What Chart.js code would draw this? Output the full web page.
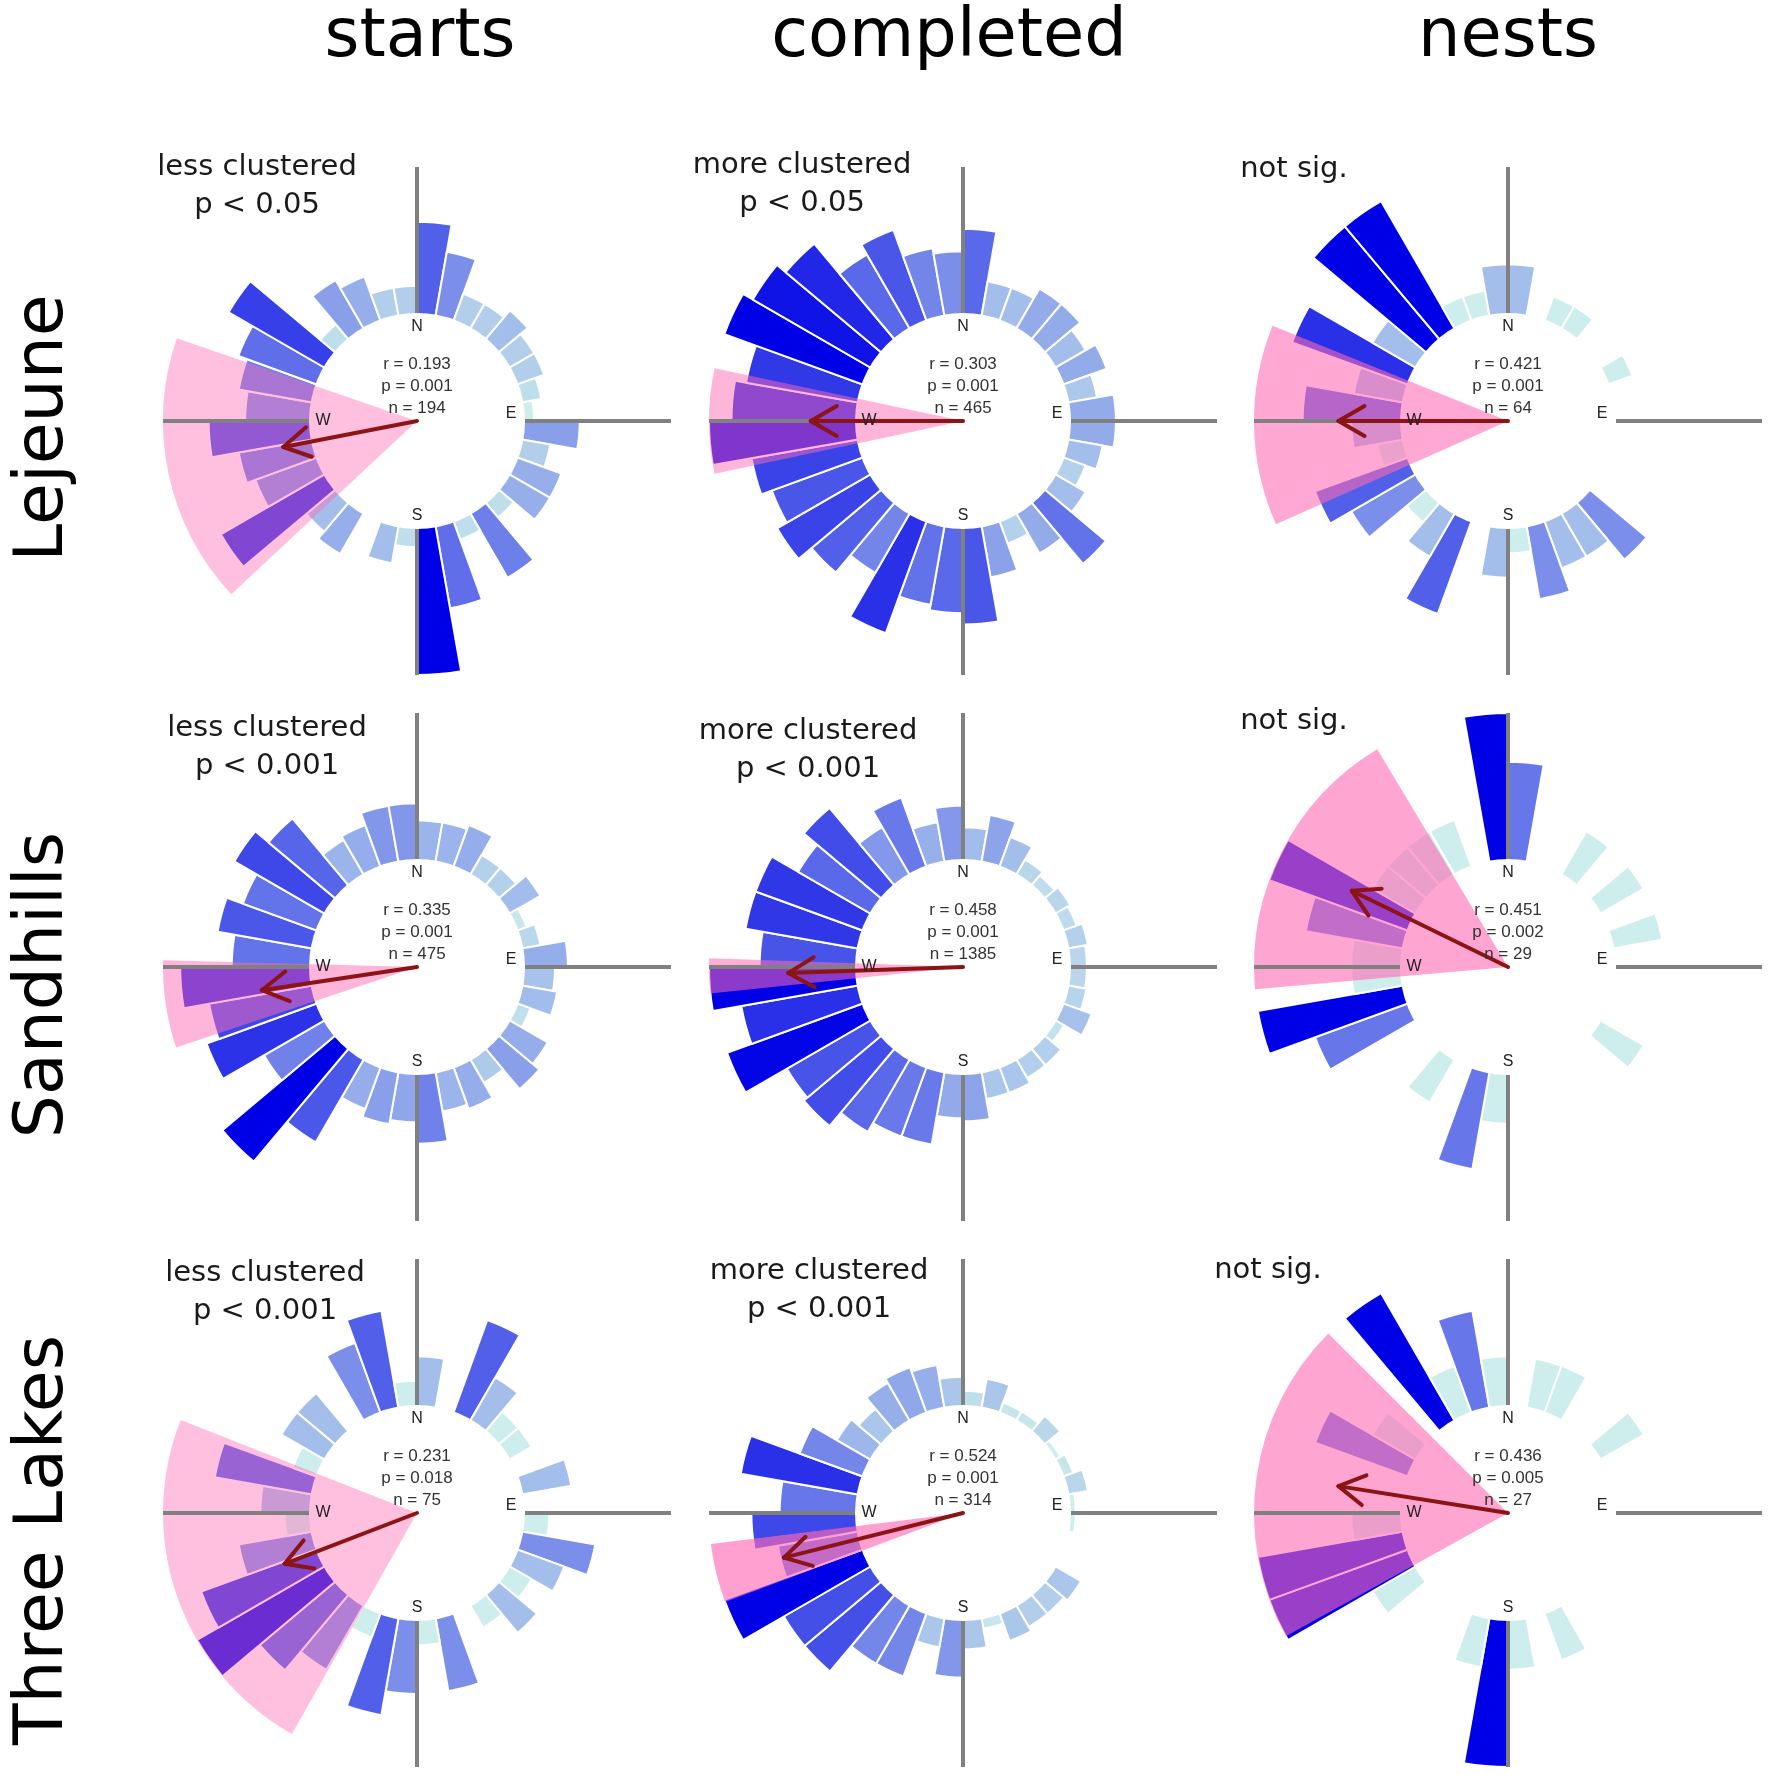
<!DOCTYPE html>
<html>
<head>
<meta charset="utf-8">
<script src="https://cdn.jsdelivr.net/npm/chart.js@4.4.1/dist/chart.umd.min.js"></script>
<style>
html, body { margin: 0; padding: 0; background: #fff; overflow: hidden; }
#page { position: relative; width: 1770px; height: 1775px; font-family: "DejaVu Sans", sans-serif; color: #000; }
canvas { position: absolute; }
.head { position: absolute; font-size: 67px; line-height: 67px; white-space: nowrap; transform: translateX(-50%); }
.row { position: absolute; font-size: 68px; line-height: 68px; white-space: nowrap; transform: translate(-50%, -50%) rotate(-90deg); }
.note { position: absolute; font-size: 29px; line-height: 38px; white-space: pre; text-align: center; color: #1a1a1a; transform: translateX(-50%); }
</style>
</head>
<body>
<div id="page"></div>
<script>
// 10 degree bins, clockwise from north
const binLabels = Array.from({ length: 36 }, (_, i) => i * 10 + "°");
const sites = ["Lejeune", "Sandhills", "Three Lakes"];
const stages = ["starts", "completed", "nests"];

// counts per bin
const lejeuneStarts = [10, 7, 3, 3, 4, 3, 3, 2, 1, 6, 3, 5, 5, 2, 8, 2, 9, 16, 2, 4, 0, 5, 4, 13, 7, 8, 11, 7, 8, 9, 12, 2, 6, 5, 3, 3];
const lejeuneCompleted = [15, 6, 6, 8, 8, 6, 8, 5, 8, 8, 6, 4, 6, 14, 8, 4, 9, 17, 15, 14, 21, 12, 16, 19, 17, 19, 26, 22, 20, 26, 24, 22, 15, 17, 12, 11];
const lejeuneNests = [2, 0, 1, 1, 0, 0, 1, 0, 0, 0, 0, 0, 0, 3, 2, 2, 3, 1, 2, 0, 4, 2, 1, 3, 4, 1, 2, 4, 2, 5, 2, 6, 6, 1, 1, 2];
const sandhillsStarts = [9, 9, 10, 5, 5, 8, 2, 4, 10, 7, 8, 3, 10, 12, 6, 10, 9, 16, 11, 12, 10, 22, 34, 16, 27, 24, 30, 18, 22, 18, 24, 20, 9, 10, 13, 13];
const sandhillsCompleted = [22, 32, 21, 11, 8, 11, 9, 13, 11, 11, 12, 20, 6, 14, 14, 18, 18, 32, 30, 50, 50, 57, 69, 66, 99, 81, 101, 66, 78, 78, 57, 69, 37, 50, 27, 37];
const sandhillsNests = [2, 0, 0, 1, 0, 1, 0, 1, 0, 0, 0, 0, 1, 0, 0, 0, 0, 0, 1, 2, 0, 1, 0, 0, 2, 3, 1, 1, 2, 3, 1, 1, 1, 1, 0, 3];
const threeLakesStarts = [2, 0, 4, 2, 1, 1, 0, 2, 0, 1, 3, 2, 1, 2, 1, 0, 3, 1, 3, 4, 1, 3, 4, 6, 5, 3, 1, 2, 4, 1, 2, 2, 0, 3, 4, 1];
const threeLakesCompleted = [3, 6, 2, 2, 4, 1, 2, 4, 1, 1, 0, 0, 6, 5, 5, 6, 2, 6, 12, 6, 14, 14, 21, 21, 31, 17, 22, 16, 25, 14, 8, 6, 9, 10, 9, 6];
const threeLakesNests = [0, 1, 1, 0, 0, 1, 0, 0, 0, 0, 0, 0, 0, 0, 0, 1, 0, 1, 3, 1, 0, 0, 0, 1, 3, 3, 1, 0, 0, 2, 1, 0, 3, 1, 2, 1];

const panelCounts = [
	lejeuneStarts, lejeuneCompleted, lejeuneNests,
	sandhillsStarts, sandhillsCompleted, sandhillsNests,
	threeLakesStarts, threeLakesCompleted, threeLakesNests,
];

// circular statistics per panel
const rValues = [0.193, 0.303, 0.421, 0.335, 0.458, 0.451, 0.231, 0.524, 0.436];
const pValues = ["0.001", "0.001", "0.001", "0.001", "0.001", "0.002", "0.018", "0.001", "0.005"];
const nValues = [194, 465, 64, 475, 1385, 29, 75, 314, 27];
const meanDirections = [259, 270, 270, 261.5, 268, 296, 249, 256, 279];
const ciLower = [227, 258, 246, 251.5, 264, 265, 209.5, 249.5, 241];
const ciUpper = [289, 282, 292, 271.5, 272, 329, 291.5, 263, 315];
const clusterNotes = [
	"less clustered\np < 0.05", "more clustered\np < 0.05", "not sig.",
	"less clustered\np < 0.001", "more clustered\np < 0.001", "not sig.",
	"less clustered\np < 0.001", "more clustered\np < 0.001", "not sig.",
];

// layout
const colCenters = [417, 963, 1508];
const rowCenters = [421, 967, 1513];
const panelSize = 546;
const plotRadius = 254;
const holeRadius = 108;
const headCenters = [420, 949, 1508];
const rowLabelCenters = [428, 985, 1540];
const noteOffsets = [
	[-160, -246], [-161, -248], [-214, -244],
	[-150, -231], [-155, -228], [-214, -238],
	[-152, -232], [-144, -234], [-240, -235],
];
const wedgeAlpha = [0.42, 0.5, 0.58, 0.5, 0.55, 0.6, 0.42, 0.63, 0.6];

// colour ramp runs from a count of 1 (light cyan) to the panel maximum (blue)
const lowColor = [205, 238, 236];
const highColor = [0, 0, 230];
const colorFloor = 1;

const barColor = (value, vmax) => {
	if (value <= 0) return "rgba(0, 0, 0, 0)";
	const t = vmax > colorFloor ? (value - colorFloor) / (vmax - colorFloor) : 1;
	const c = lowColor.map((lo, k) => Math.round(lo + (highColor[k] - lo) * t));
	return `rgb(${c[0]}, ${c[1]}, ${c[2]})`;
};

const roseDecor = {
	id: "roseDecor",
	afterDatasetDraw(chart, args) {
		// white hole in the middle, over the bars but under the wedge
		if (args.index !== 0) return;
		const scale = chart.scales.r;
		const ctx = chart.ctx;
		ctx.save();
		ctx.fillStyle = "#fff";
		ctx.beginPath();
		ctx.arc(scale.xCenter, scale.yCenter, scale.getDistanceFromCenterForValue(0), 0, Math.PI * 2);
		ctx.fill();
		ctx.restore();
	},
	afterDatasetsDraw(chart, args, opts) {
		const scale = chart.scales.r;
		const ctx = chart.ctx;
		const cx = scale.xCenter;
		const cy = scale.yCenter;
		const inner = scale.getDistanceFromCenterForValue(0);
		const outer = scale.getDistanceFromCenterForValue(scale.max);
		const point = (deg, dist) => {
			const a = (deg * Math.PI) / 180;
			return [cx + dist * Math.sin(a), cy - dist * Math.cos(a)];
		};

		ctx.save();
		ctx.strokeStyle = "#808080";
		ctx.lineWidth = 4;
		[0, 90, 180, 270].forEach((deg) => {
			const [x1, y1] = point(deg, inner);
			const [x2, y2] = point(deg, outer);
			ctx.beginPath();
			ctx.moveTo(x1, y1);
			ctx.lineTo(x2, y2);
			ctx.stroke();
		});

		// mean vector
		const tip = scale.getDistanceFromCenterForValue(opts.r * scale.max);
		const [tx, ty] = point(opts.dir, tip);
		ctx.strokeStyle = "#8b1414";
		ctx.lineWidth = 4;
		ctx.lineCap = "round";
		ctx.beginPath();
		ctx.moveTo(cx, cy);
		ctx.lineTo(tx, ty);
		ctx.stroke();
		[-30, 30].forEach((off) => {
			const a = ((opts.dir + 180 + off) * Math.PI) / 180;
			ctx.beginPath();
			ctx.moveTo(tx, ty);
			ctx.lineTo(tx + 30 * Math.sin(a), ty - 30 * Math.cos(a));
			ctx.stroke();
		});

		ctx.fillStyle = "#333";
		ctx.font = "17px 'Liberation Sans', Arial, sans-serif";
		ctx.textAlign = "center";
		ctx.textBaseline = "middle";
		ctx.fillText(`r = ${opts.r.toFixed(3)}`, cx, cy - 57);
		ctx.fillText(`p = ${opts.p}`, cx, cy - 35);
		ctx.fillText(`n = ${opts.n}`, cx, cy - 13);

		ctx.fillStyle = "#222";
		ctx.font = "16px 'Liberation Sans', Arial, sans-serif";
		const lab = inner - 14;
		ctx.fillText("N", cx, cy - lab);
		ctx.fillText("S", cx, cy + lab + 1);
		ctx.fillText("E", cx + lab, cy - 7);
		ctx.fillText("W", cx - lab, cy);
		ctx.restore();
	},
};

const page = document.getElementById("page");

const addText = (cls, text, x, y) => {
	const el = document.createElement("div");
	el.className = cls;
	el.textContent = text;
	el.style.left = x + "px";
	el.style.top = y + "px";
	page.appendChild(el);
	return el;
};

stages.forEach((stage, i) => addText("head", stage, headCenters[i], 0));
sites.forEach((site, i) => addText("row", site, 38.5, rowLabelCenters[i]));

const createRose = (idx) => {
	const row = Math.floor(idx / 3);
	const col = idx % 3;
	const counts = panelCounts[idx];
	const vmax = Math.max(...counts);
	const wedgeAngles = [ciLower[idx], ciUpper[idx] - ciLower[idx], 360 - ciUpper[idx]];

	const canvas = document.createElement("canvas");
	canvas.width = panelSize;
	canvas.height = panelSize;
	canvas.style.left = colCenters[col] - panelSize / 2 + "px";
	canvas.style.top = rowCenters[row] - panelSize / 2 + "px";
	page.appendChild(canvas);

	new Chart(canvas, {
		type: "polarArea",
		data: {
			labels: binLabels,
			datasets: [
				{
					label: "counts",
					data: counts,
					backgroundColor: counts.map((v) => barColor(v, vmax)),
					borderColor: "#fff",
					borderWidth: 2,
					order: 1,
				},
				{
					label: "mean direction CI",
					data: [0, vmax, 0],
					angle: (ctx) => wedgeAngles[ctx.dataIndex],
					backgroundColor: ["rgba(0, 0, 0, 0)", `rgba(255, 105, 180, ${wedgeAlpha[idx]})`, "rgba(0, 0, 0, 0)"],
					borderWidth: 0,
					order: 0,
				},
			],
		},
		options: {
			responsive: false,
			animation: false,
			events: [],
			layout: { padding: (panelSize - 2 * plotRadius) / 2 },
			scales: {
				r: {
					display: false,
					min: (-vmax * holeRadius) / (plotRadius - holeRadius),
					max: vmax,
					startAngle: 0,
				},
			},
			plugins: {
				legend: { display: false },
				tooltip: { enabled: false },
				roseDecor: { r: rValues[idx], dir: meanDirections[idx], p: pValues[idx], n: nValues[idx] },
			},
		},
		plugins: [roseDecor],
	});

	const [dx, dy] = noteOffsets[idx];
	addText("note", clusterNotes[idx], colCenters[col] + dx, rowCenters[row] + dy - 29);
};

for (let i = 0; i < 9; i++) createRose(i);
</script>
</body>
</html>
